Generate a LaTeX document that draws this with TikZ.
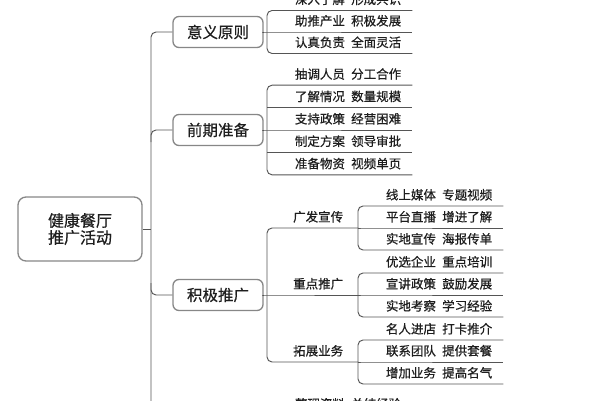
\documentclass[tikz,border=0pt]{standalone}
\usepackage{fontspec}
\setmainfont{Noto Sans CJK SC}[FakeBold=0.6]
\definecolor{linec}{RGB}{85,85,85}
\definecolor{boxc}{RGB}{135,135,135}
\definecolor{txt}{RGB}{30,30,30}
\begin{document}
\begin{tikzpicture}[x=1pt,y=-1pt,
  ln/.style={draw=linec, line width=0.95pt, rounded corners=5pt},
  rootbox/.style={draw=boxc, line width=1.3pt, rounded corners=8pt, fill=white,
    minimum width=124pt, minimum height=64pt, align=center, text=txt,
    font=\fontsize{16}{17}\selectfont, inner sep=0pt},
  mainbox/.style={draw=boxc, line width=1.3pt, rounded corners=6pt, fill=white,
    minimum width=90pt, minimum height=31pt, text=txt,
    font=\fontsize{15.5}{18}\selectfont, inner sep=0pt},
  leaf/.style={inner xsep=11pt, inner ysep=0pt, text width=123pt, align=right,
    minimum height=22pt, anchor=south west, text=txt,
    font=\fontsize{12.5}{14}\selectfont},
  sub/.style={inner xsep=15pt, inner ysep=0pt, text width=61pt, align=right,
    minimum height=22pt, anchor=south west, text=txt,
    font=\fontsize{12.5}{14}\selectfont},
]
\useasboundingbox (0,0) rectangle (600,400);

% root and main branches
\node[rootbox] (root) at (80,229) {健康餐厅\\推广活动};
\node[mainbox] (b1) at (218,32) {意义原则};
\node[mainbox] (b2) at (218,130) {前期准备};
\node[mainbox] (b3) at (218,295) {积极推广};

\coordinate (ttop) at (151,32);
\coordinate (tbot) at (151,410);
\coordinate (troot) at (151,229);
\coordinate (t2) at (151,130);
\coordinate (t2d) at (151,142);
\coordinate (t3) at (151,295);
\coordinate (t3u) at (151,283);

\draw[ln] (b1.west) -- (ttop) -- (tbot);
\draw[ln] (root.east) -- (troot);
\draw[ln] (b2.west) -- (t2) -- (t2d);
\draw[ln] (b3.west) -- (t3) -- (t3u);

% group 1
\node[leaf] (a1) at (267,10.5) {深入了解\enspace 形成共识};
\node[leaf] (a2) at (267,32) {助推产业\enspace 积极发展};
\node[leaf] (a3) at (267,53.5) {认真负责\enspace 全面灵活};
\draw[ln] (a1.south east) -- (a1.south west) -- (a3.south west) -- (a3.south east);
\draw[ln] (b1.east) -- (a2.south west) -- (a2.south east);

% group 2
\node[leaf] (p1) at (267,85.2) {抽调人员\enspace 分工合作};
\node[leaf] (p2) at (267,107.6) {了解情况\enspace 数量规模};
\node[leaf] (p3) at (267,130) {支持政策\enspace 经营困难};
\node[leaf] (p4) at (267,152.4) {制定方案\enspace 领导审批};
\node[leaf] (p5) at (267,174.8) {准备物资\enspace 视频单页};
\draw[ln] (p1.south east) -- (p1.south west) -- (p5.south west) -- (p5.south east);
\draw[ln] (p2.south west) -- (p2.south east);
\draw[ln] (p4.south west) -- (p4.south east);
\draw[ln] (b2.east) -- (p3.south west) -- (p3.south east);

% group 3 sub-branches
\node[sub] (s1) at (267,228) {广发宣传};
\node[sub] (s2) at (267,295) {重点推广};
\node[sub] (s3) at (267,362) {拓展业务};
\draw[ln] (s1.south east) -- (s1.south west) -- (s3.south west) -- (s3.south east);
\draw[ln] (b3.east) -- (s2.south west) -- (s2.south east);

% sub 1 leaves
\node[leaf] (c1) at (358,206) {线上媒体\enspace 专题视频};
\node[leaf] (c2) at (358,228) {平台直播\enspace 增进了解};
\node[leaf] (c3) at (358,250) {实地宣传\enspace 海报传单};
\draw[ln] (c1.south east) -- (c1.south west) -- (c3.south west) -- (c3.south east);
\draw[ln] (s1.south east) -- (c2.south west) -- (c2.south east);

% sub 2 leaves
\node[leaf] (d1) at (358,273) {优选企业\enspace 重点培训};
\node[leaf] (d2) at (358,295) {宣讲政策\enspace 鼓励发展};
\node[leaf] (d3) at (358,317) {实地考察\enspace 学习经验};
\draw[ln] (d1.south east) -- (d1.south west) -- (d3.south west) -- (d3.south east);
\draw[ln] (s2.south east) -- (d2.south west) -- (d2.south east);

% sub 3 leaves
\node[leaf] (e1) at (358,340) {名人进店\enspace 打卡推介};
\node[leaf] (e2) at (358,362) {联系团队\enspace 提供套餐};
\node[leaf] (e3) at (358,384) {增加业务\enspace 提高名气};
\draw[ln] (e1.south east) -- (e1.south west) -- (e3.south west) -- (e3.south east);
\draw[ln] (s3.south east) -- (e2.south west) -- (e2.south east);

% partly visible leaf at the bottom edge
\node[leaf] (f1) at (267,415) {整理资料\enspace 总结经验};
\end{tikzpicture}
\end{document}
